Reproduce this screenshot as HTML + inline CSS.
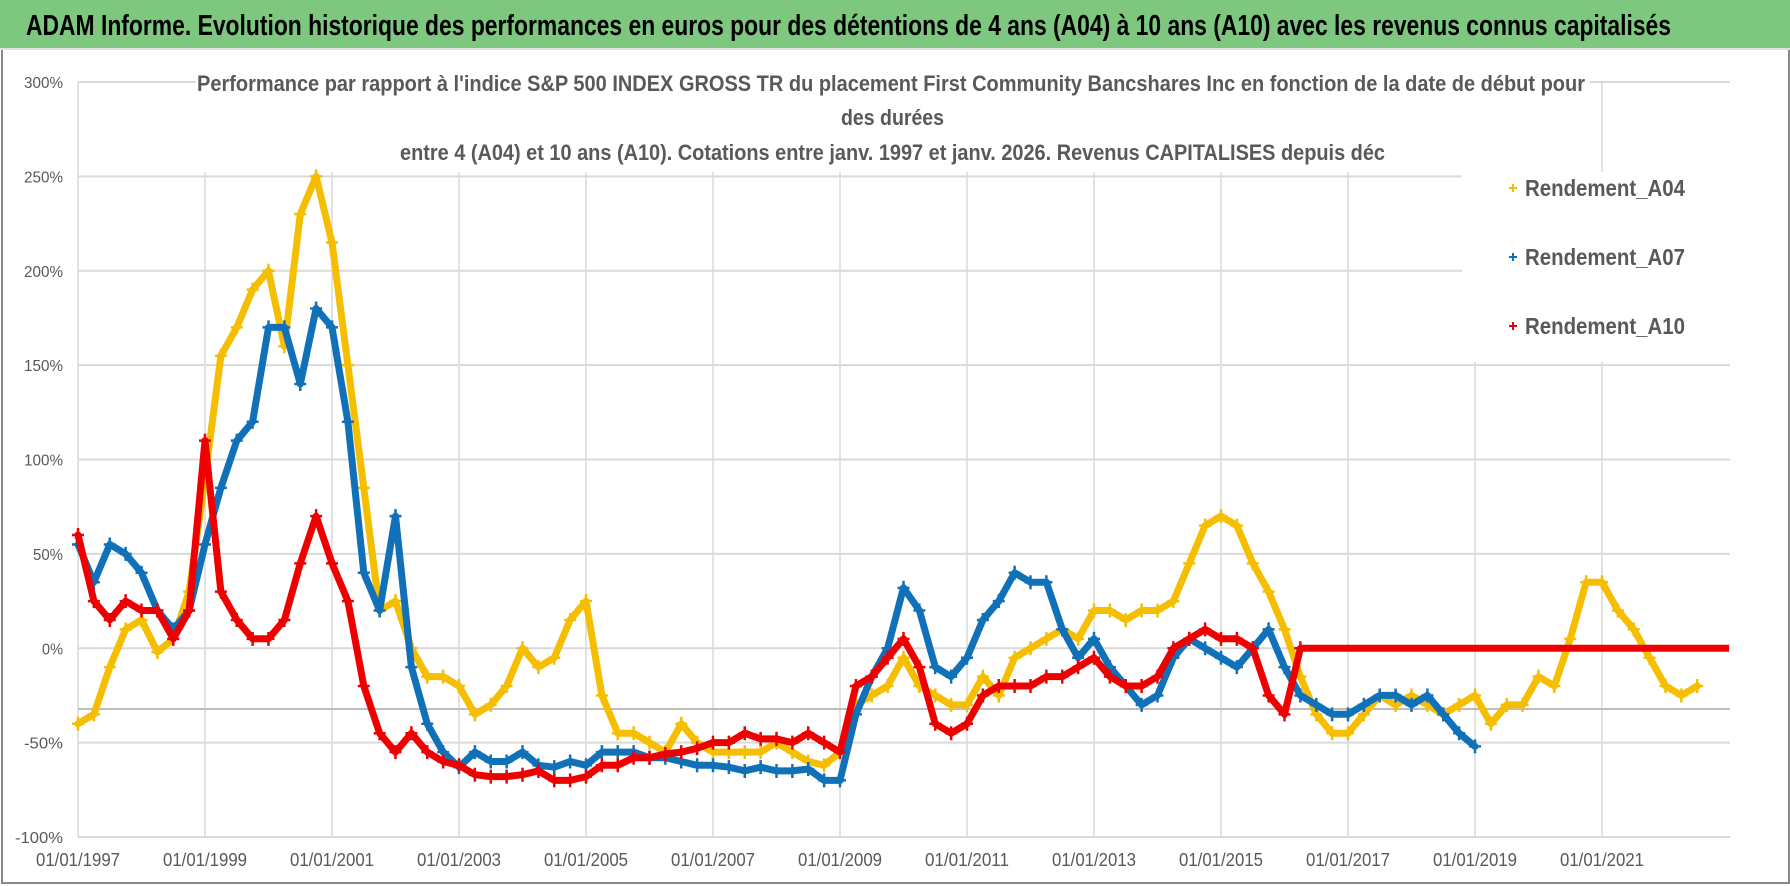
<!DOCTYPE html>
<html><head><meta charset="utf-8"><style>
html,body{margin:0;padding:0;background:#fff;}
#wrap{position:relative;width:1790px;height:886px;overflow:hidden;background:#fff;font-family:"Liberation Sans",sans-serif;}
#hdr{position:absolute;left:0;top:0;width:1790px;height:48px;background:#7dc77f;border-bottom:2px solid #e0e0e0;}
#frame{position:absolute;left:1px;top:50px;width:1785px;height:832px;border:2px solid #8a8a8a;border-top:none;}
</style></head><body>
<div id="wrap">
<div id="hdr"></div>
<div id="frame"></div>
<svg id="chart" width="1790" height="886" style="position:absolute;left:0;top:0"></svg>
</div>
<script>
const startYear=1997;
const step=0.25;
const yTicks=[300,250,200,150,100,50,0,-50,-100];
const xTickYears=[1997,1999,2001,2003,2005,2007,2009,2011,2013,2015,2017,2019,2021];
const seriesNames=["Rendement_A04","Rendement_A07","Rendement_A10"];
const a04=[-40,-35,-10,10,15,-2,5,30,90,155,170,190,200,160,230,250,215,150,85,20,25,0,-15,-15,-20,-35,-30,-20,0,-10,-5,15,25,-25,-45,-45,-50,-55,-40,-50,-55,-55,-55,-55,-50,-55,-60,-62,-55,-30,-25,-20,-5,-20,-25,-30,-30,-15,-25,-5,0,5,10,5,20,20,15,20,20,25,45,65,70,65,45,30,10,-15,-35,-45,-45,-35,-25,-30,-25,-30,-35,-30,-25,-40,-30,-30,-15,-20,5,35,35,20,10,-5,-20,-25,-20];
const a07=[55,35,55,50,40,20,10,20,55,85,110,120,170,170,140,180,170,120,40,20,70,-10,-40,-55,-63,-55,-60,-60,-55,-62,-63,-60,-62,-55,-55,-55,-58,-58,-60,-62,-62,-63,-65,-63,-65,-65,-64,-70,-70,-35,-15,0,32,20,-10,-15,-5,15,25,40,35,35,10,-5,5,-10,-20,-30,-25,-5,5,0,-5,-10,0,10,-10,-25,-30,-35,-35,-30,-25,-25,-30,-25,-35,-45,-52];
const a10=[60,25,15,25,20,20,5,20,110,30,15,5,5,15,45,70,45,25,-20,-45,-55,-45,-55,-60,-62,-67,-68,-68,-67,-65,-70,-70,-68,-62,-62,-58,-58,-56,-55,-53,-50,-50,-45,-48,-48,-50,-45,-50,-55,-20,-15,-5,5,-10,-40,-45,-40,-25,-20,-20,-20,-15,-15,-10,-5,-15,-20,-20,-15,0,5,10,5,5,0,-25,-35,0];
const a10FlatEnd=2023.0;
const colors=["#f5be00","#1070b8","#ee0000"];
const X0=78,PXYEAR=63.5,Y300=82,PXPCT=1.8875,XEND=1730;
function xs(yr){return X0+(yr-startYear)*PXYEAR;}
function ys(v){return Y300+(300-v)*PXPCT;}
const svg=document.getElementById('chart');const NS="http://www.w3.org/2000/svg";
function mk(t,a,p){const e=document.createElementNS(NS,t);for(const k in a)e.setAttribute(k,a[k]);(p||svg).appendChild(e);return e;}
const FF='"Liberation Sans",sans-serif';
// header
const ht=mk('text',{x:26,y:35,'font-size':29,'font-weight':'bold',fill:'#000','font-family':FF,textLength:1645,lengthAdjust:'spacingAndGlyphs'});
ht.textContent='ADAM Informe. Evolution historique des performances en euros pour des détentions de 4 ans (A04) à 10 ans (A10) avec les revenus connus capitalisés';


// gridlines
yTicks.forEach(v=>{const l=mk('line',{x1:X0,x2:XEND,y1:ys(v),y2:ys(v),stroke:'#d9d9d9','stroke-width':2});


const s=String(v).length;
const t=mk('text',{x:63,y:ys(v)+6,'text-anchor':'end','font-size':16,fill:'#595959','font-family':FF,textLength:s*9+12,lengthAdjust:'spacingAndGlyphs'});t.textContent=v+'%';

});
xTickYears.forEach(yr=>{const l=mk('line',{x1:xs(yr),x2:xs(yr),y1:Y300,y2:ys(-100),stroke:'#d9d9d9','stroke-width':1.5});


const t=mk('text',{x:xs(yr)-42,y:866,'font-size':18,fill:'#595959','font-family':FF,textLength:84,lengthAdjust:'spacingAndGlyphs'});t.textContent='01/01/'+yr;

});
const ref=mk('line',{x1:X0,x2:XEND,y1:709,y2:709,stroke:'#bdbdbd','stroke-width':2});


// title and legend boxes
const tb=mk('rect',{x:196,y:70,width:1394,height:102,fill:'#fff'});


const lb=mk('rect',{x:1462,y:172,width:270,height:190,fill:'#fff'});


const titles=["Performance par rapport à l'indice S&P 500 INDEX GROSS TR  du placement First Community Bancshares Inc en fonction de la date de début pour","des durées","entre 4 (A04) et 10 ans (A10).  Cotations entre janv. 1997 et janv. 2026. Revenus CAPITALISES depuis déc"];
const tx=[197,841,400],tw=[1388,103,985];
[91,125,160].forEach((y,i)=>{const t=mk('text',{x:tx[i],y:y,'font-size':22,'font-weight':'bold',fill:'#595959','font-family':FF,textLength:tw[i],lengthAdjust:'spacingAndGlyphs'});t.textContent=titles[i];

});
// clip
const defs=mk('defs',{});const cp=mk('clipPath',{id:'plotclip'},defs);mk('rect',{x:X0-8,y:Y300-8,width:XEND-X0+8,height:ys(-100)-Y300+16},cp);
// series
[a04,a07,a10].forEach((arr,si)=>{const g=mk('g',{'clip-path':'url(#plotclip)'});


const pts=arr.map((v,i)=>xs(startYear+i*step).toFixed(1)+','+ys(v).toFixed(1)).join(' ');
const pl=mk('polyline',{points:pts,fill:'none',stroke:colors[si],'stroke-width':7,'stroke-linejoin':'round','stroke-linecap':'round'},g);


arr.forEach((v,i)=>{const x=xs(startYear+i*step),y=ys(v);
const p=mk('path',{d:`M${x-6},${y}h12M${x},${y-7}v14`,stroke:colors[si],'stroke-width':2.5},g);

});
if(si===2){const l=mk('line',{x1:xs(startYear+(arr.length-1)*step),x2:xs(a10FlatEnd),y1:ys(0),y2:ys(0),stroke:colors[si],'stroke-width':7},g);

}
});
// legend
[188,257,326].forEach((y,i)=>{const m=mk('path',{d:`M${1509},${y}h8M${1513},${y-4}v8`,stroke:colors[i],'stroke-width':2});


const t=mk('text',{x:1525,y:y+8,'font-size':23,'font-weight':'bold',fill:'#595959','font-family':FF,textLength:160,lengthAdjust:'spacingAndGlyphs'});t.textContent=seriesNames[i];

});
</script>
</body></html>
